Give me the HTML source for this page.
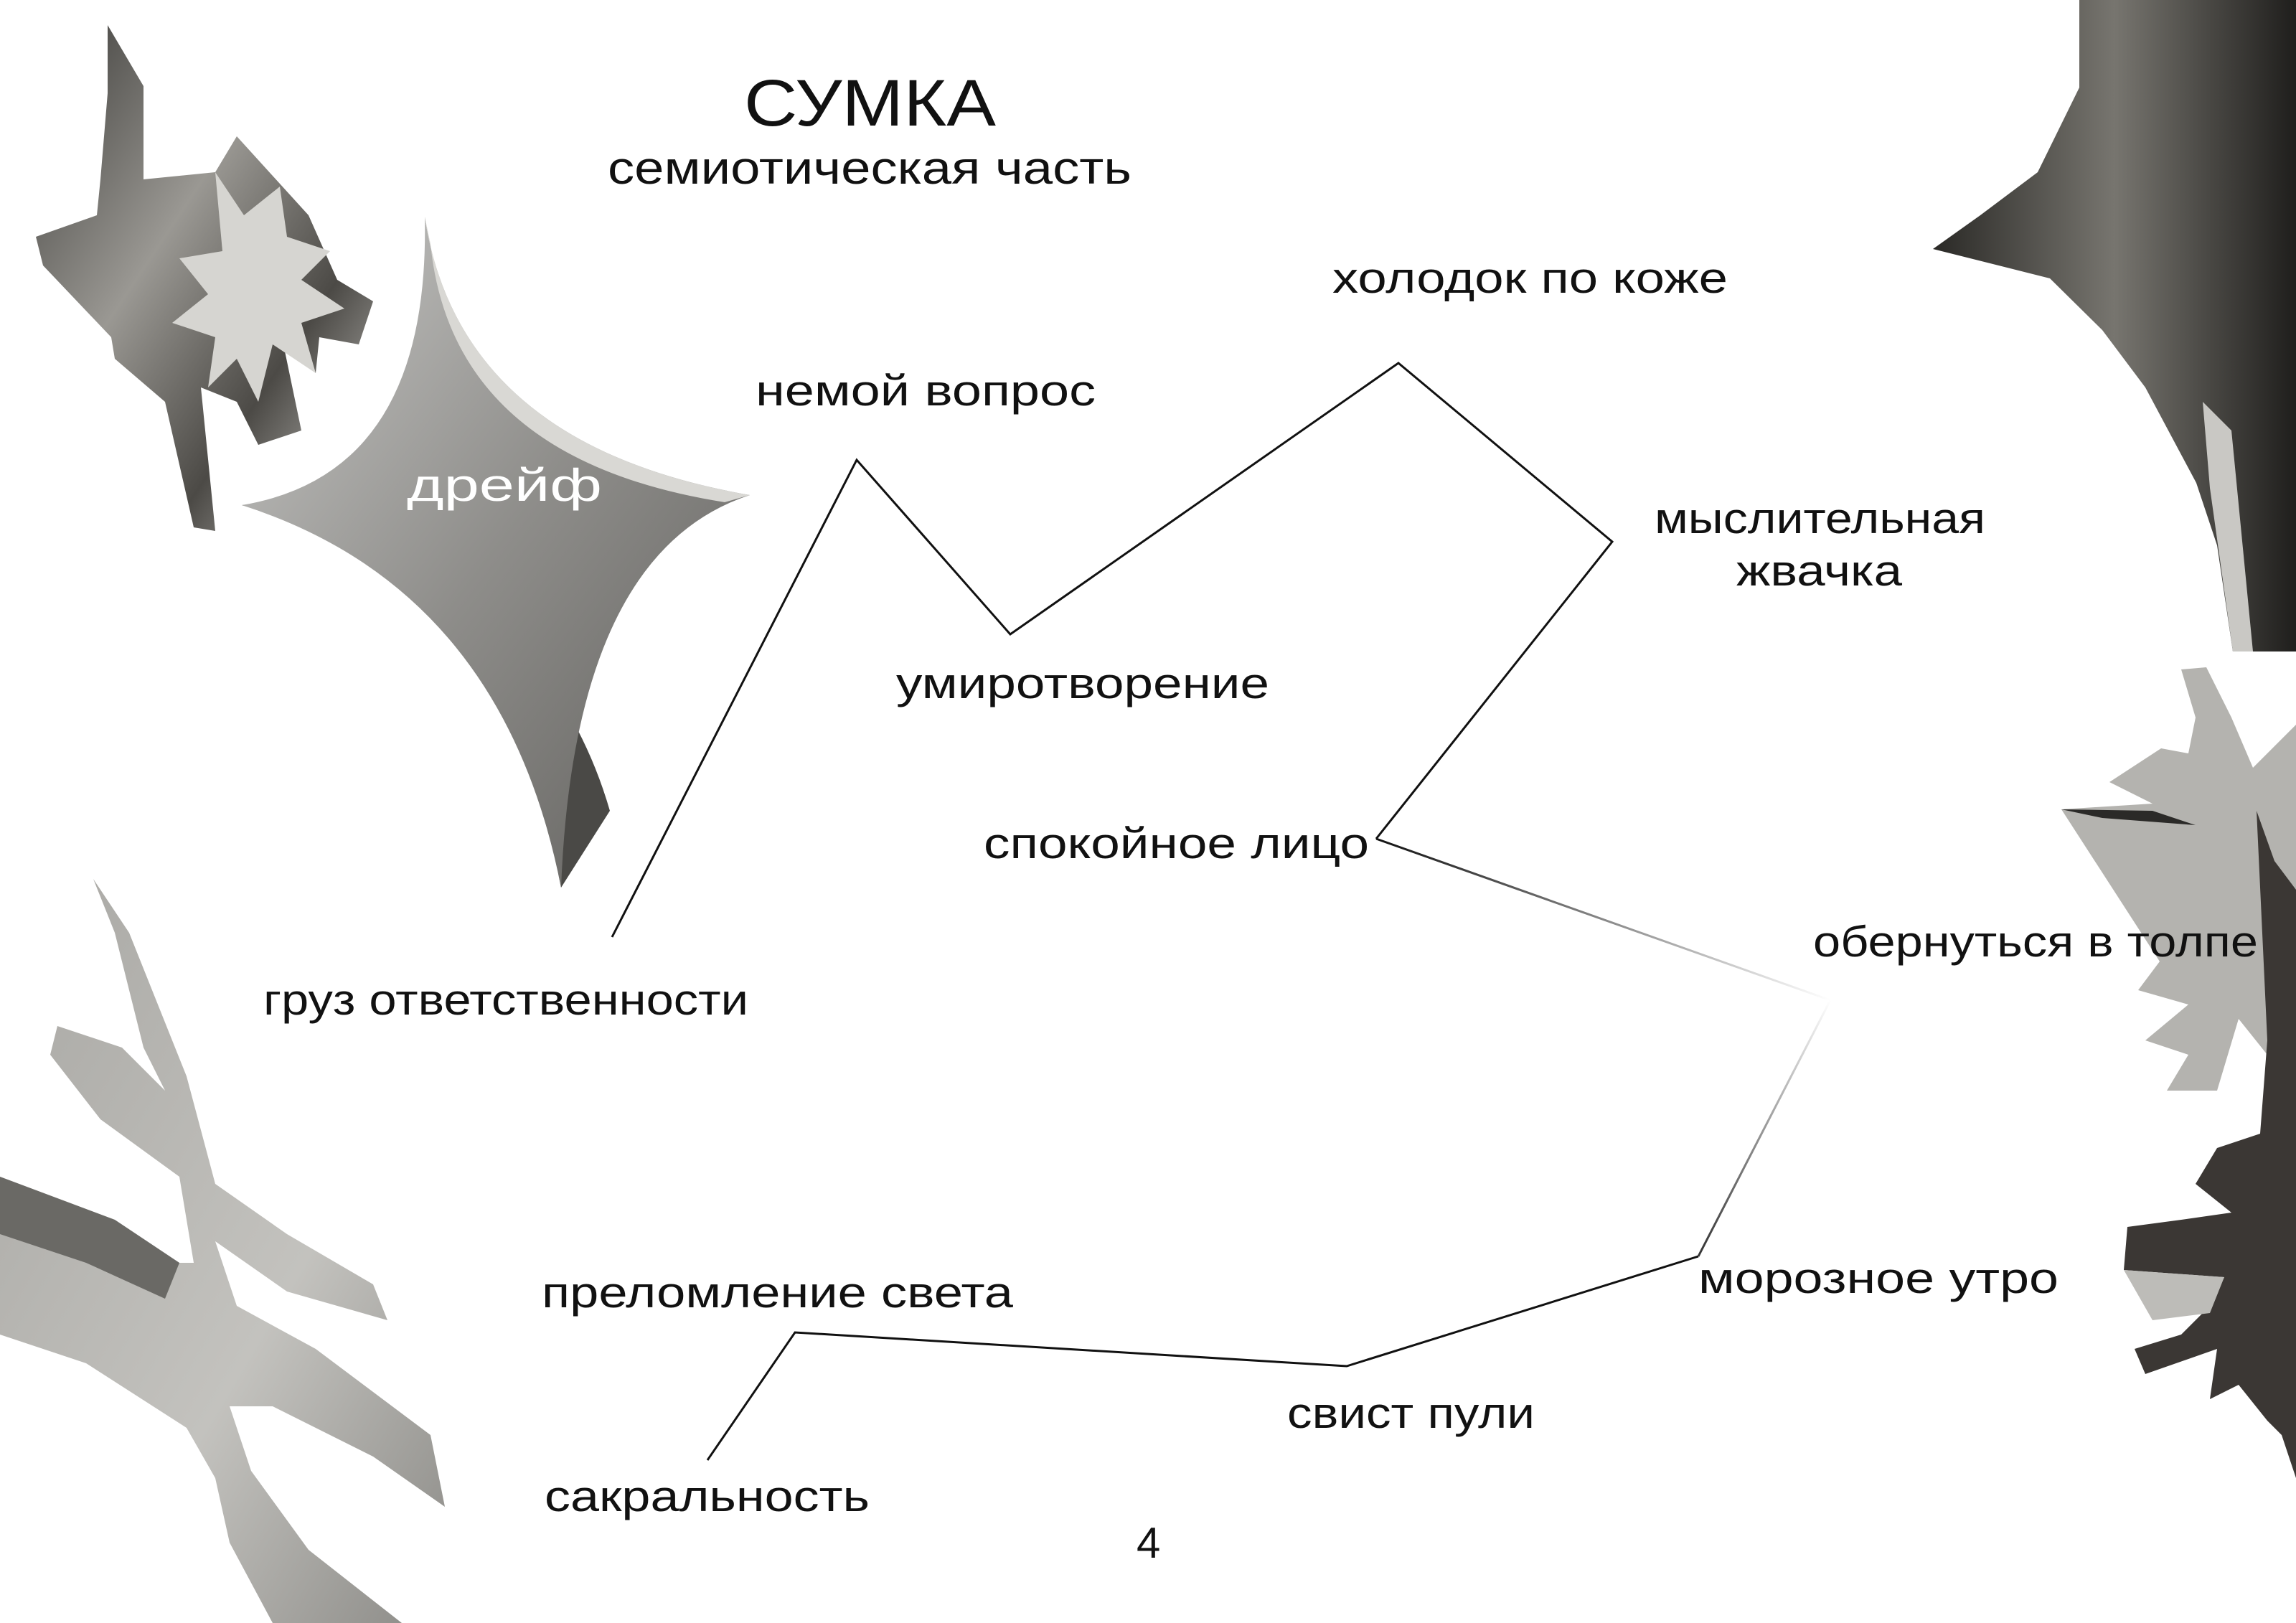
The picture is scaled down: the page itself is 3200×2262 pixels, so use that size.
<!DOCTYPE html>
<html><head><meta charset="utf-8"><style>
html,body{margin:0;padding:0;background:#fff;}
svg{display:block;}
text{font-family:"Liberation Sans","DejaVu Sans",sans-serif;fill:#111;}
</style></head><body>
<svg width="3200" height="2262" viewBox="0 0 3200 2262" xmlns="http://www.w3.org/2000/svg">
<defs>
<linearGradient id="m1" x1="0" y1="0" x2="1" y2="1">
<stop offset="0" stop-color="#c9c9c7"/><stop offset=".5" stop-color="#8e8d8a"/><stop offset="1" stop-color="#5e5d5a"/></linearGradient>
<linearGradient id="m2" x1="0" y1="0" x2="1" y2="0">
<stop offset="0" stop-color="#2a2926"/><stop offset=".5" stop-color="#77756f"/><stop offset="1" stop-color="#1f1e1c"/></linearGradient>
<linearGradient id="m3" x1="0" y1="0" x2="1" y2="1">
<stop offset="0" stop-color="#a8a7a3"/><stop offset=".6" stop-color="#c3c2be"/><stop offset="1" stop-color="#8b8a86"/></linearGradient>
<linearGradient id="m4" x1="0" y1="0" x2="1" y2="1">
<stop offset="0" stop-color="#3b3a37"/><stop offset=".4" stop-color="#9a9893"/><stop offset=".7" stop-color="#4c4a46"/><stop offset="1" stop-color="#d0cfcb"/></linearGradient>
<linearGradient id="fade1" gradientUnits="userSpaceOnUse" x1="1918" y1="1169" x2="2551" y2="1394">
<stop offset="0" stop-color="#111"/><stop offset="1" stop-color="#fff"/></linearGradient>
<linearGradient id="fade2" gradientUnits="userSpaceOnUse" x1="2551" y1="1394" x2="2367" y2="1751">
<stop offset="0" stop-color="#fff"/><stop offset="1" stop-color="#333"/></linearGradient>
</defs>

<!-- top-left back cross shape -->
<path d="M150 35 L200 120 L200 250 L300 240 L330 190 L430 300 L470 390 L520 420 L500 480 L445 470 L440 520 L395 480 L420 600 L360 620 L330 560 L280 540 L300 740 L270 735 L230 560 L160 500 L155 470 L60 370 L50 330 L135 300 L140 250 L150 130 Z" fill="url(#m4)"/>
<path d="M300 240 L340 300 L390 260 L400 330 L460 350 L420 390 L480 430 L420 450 L440 520 L380 480 L360 560 L330 500 L290 540 L300 470 L240 450 L290 410 L250 360 L310 350 Z" fill="#d6d5d1"/>

<!-- top-left front star (concave sides) -->
<path d="M337 704 Q700 800 782 1237 L850 1130 Q760 820 400 700 Z" fill="#4a4946"/>
<path d="M592 302 Q640 620 1045 690 Q800 770 782 1237 Q700 820 337 704 Q600 660 592 302 Z" fill="url(#m1)"/>
<path d="M592 302 Q640 620 1045 690 L1010 700 Q630 640 600 340 Z" fill="#d9d8d4"/>

<!-- bottom-left shape -->
<path d="M130 1225 L160 1300 L200 1460 L230 1520 L170 1460 L80 1430 L70 1470 L140 1560 L250 1640 L270 1760 L250 1760 L160 1700 L0 1640 L0 1860 L120 1900 L260 1990 L300 2060 L320 2150 L380 2262 L560 2262 L430 2160 L350 2050 L320 1960 L380 1960 L520 2030 L620 2100 L600 2000 L440 1880 L330 1820 L300 1730 L400 1800 L540 1840 L520 1790 L400 1720 L300 1650 L260 1500 L180 1300 Z" fill="url(#m3)"/>
<path d="M0 1640 L160 1700 L250 1760 L230 1810 L120 1760 L0 1720 Z" fill="#6a6965"/>

<!-- top-right dark shape -->
<path d="M2898 0 L3200 0 L3200 908 L3112 908 L3090 760 L3061 673 L2990 540 L2930 460 L2857 388 L2694 347 L2760 300 L2840 240 L2898 122 Z" fill="url(#m2)"/>
<path d="M3112 908 L3140 908 L3110 600 L3070 560 L3080 680 Z" fill="#c9c8c4"/>

<!-- right-mid spiky shape -->
<path d="M3040 933 L3075 930 L3110 1000 L3140 1070 L3200 1010 L3200 1530 L3160 1470 L3120 1420 L3090 1520 L3020 1520 L3050 1470 L2990 1450 L3050 1400 L2980 1380 L3010 1340 L2873 1128 L3000 1120 L2940 1090 L3012 1043 L3050 1050 L3060 1000 Z" fill="#b4b3af"/>
<path d="M2873 1128 L3000 1130 L3060 1150 L2930 1140 Z" fill="#2b2a28"/>
<!-- dark star lower right -->
<path d="M3145 1130 L3170 1200 L3200 1240 L3200 2060 L3180 2000 L3160 1980 L3120 1930 L3080 1950 L3090 1880 L2990 1915 L2975 1880 L3040 1860 L3080 1820 L3100 1780 L2960 1770 L2965 1710 L3040 1700 L3110 1690 L3060 1650 L3090 1600 L3150 1580 L3160 1450 Z" fill="#3b3734"/>
<path d="M2960 1770 L3100 1780 L3080 1830 L3000 1840 Z" fill="#bdbcb8"/>

<!-- connector lines -->
<polyline points="853,1306 1194,641 1408,884 1949,506 2247,755 1918,1169" fill="none" stroke="#111" stroke-width="3"/>
<line x1="1918" y1="1169" x2="2551" y2="1394" stroke="url(#fade1)" stroke-width="3"/>
<line x1="2551" y1="1394" x2="2367" y2="1751" stroke="url(#fade2)" stroke-width="3"/>
<polyline points="2367,1751 1877,1904 1108,1857 986,2035" fill="none" stroke="#111" stroke-width="3"/>

<!-- texts -->
<text x="1037" y="175" font-size="92" textLength="351" lengthAdjust="spacingAndGlyphs">СУМКА</text>
<text x="847" y="256" font-size="64" textLength="730" lengthAdjust="spacingAndGlyphs">семиотическая часть</text>
<text x="1857" y="408" font-size="60" textLength="551" lengthAdjust="spacingAndGlyphs">холодок по коже</text>
<text x="1053" y="565" font-size="60" textLength="474" lengthAdjust="spacingAndGlyphs">немой вопрос</text>
<text x="567" y="698" font-size="64" textLength="272" lengthAdjust="spacingAndGlyphs" style="fill:#fff">дрейф</text>
<text x="2306" y="743" font-size="60" textLength="461" lengthAdjust="spacingAndGlyphs">мыслительная</text>
<text x="2420" y="816" font-size="60" textLength="231" lengthAdjust="spacingAndGlyphs">жвачка</text>
<text x="1249" y="973" font-size="60" textLength="520" lengthAdjust="spacingAndGlyphs">умиротворение</text>
<text x="1371" y="1196" font-size="60" textLength="537" lengthAdjust="spacingAndGlyphs">спокойное лицо</text>
<text x="2527" y="1333" font-size="60" textLength="620" lengthAdjust="spacingAndGlyphs">обернуться в толпе</text>
<text x="367" y="1414" font-size="60" textLength="676" lengthAdjust="spacingAndGlyphs">груз ответственности</text>
<text x="2367" y="1802" font-size="60" textLength="502" lengthAdjust="spacingAndGlyphs">морозное утро</text>
<text x="755" y="1822" font-size="60" textLength="657" lengthAdjust="spacingAndGlyphs">преломление света</text>
<text x="1794" y="1990" font-size="60" textLength="345" lengthAdjust="spacingAndGlyphs">свист пули</text>
<text x="759" y="2106" font-size="60" textLength="453" lengthAdjust="spacingAndGlyphs">сакральность</text>
<text x="1584" y="2171" font-size="60">4</text>
</svg>
</body></html>
